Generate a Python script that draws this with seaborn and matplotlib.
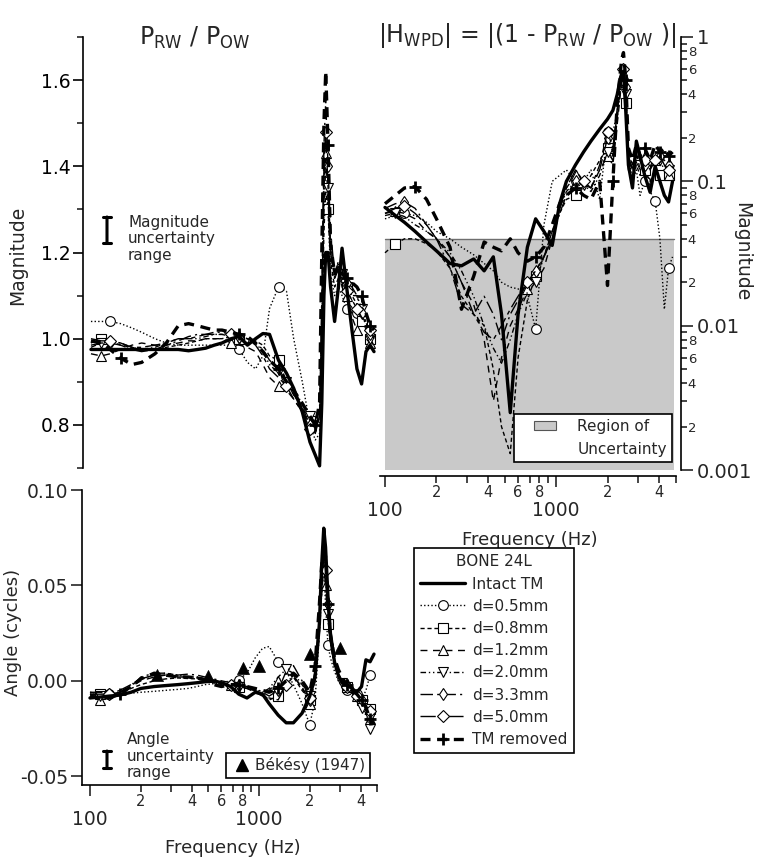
import numpy as np
import matplotlib
matplotlib.use("Agg")
import matplotlib.pyplot as plt
import seaborn as sns
from matplotlib.ticker import FixedLocator, FixedFormatter, NullLocator
from matplotlib.lines import Line2D
from matplotlib.patches import Patch, Rectangle, FancyArrowPatch
from matplotlib.legend_handler import HandlerPatch

# ---------------- data ----------------
FREQ = [100, 115, 130, 150, 175, 200, 240, 280, 330, 380, 430, 480, 540, 600, 680, 760,
        850, 950, 1050, 1150, 1300, 1450, 1600, 1800, 2000, 2150, 2280, 2350, 2420, 2480,
        2560, 2650, 2800, 2950, 3100, 3300, 3550, 3800, 4050, 4300, 4550, 4800]

SERIES = ["Intact TM", "d=0.5mm", "d=0.8mm", "d=1.2mm", "d=2.0mm", "d=3.3mm", "d=5.0mm", "TM removed"]

# P_RW / P_OW magnitude
ratio_intact = [.975, .975, .975, .975, .975, .975, .975, .975, .975, .972, .975, .978, .985, .99, 1.0, 1.005,
                .985, 1.0, 1.012, 1.01, .95, .92, .885, .83, .76, .73, .705, .85, 1.1, 1.2,
                1.2, 1.12, 1.04, 1.12, 1.21, 1.12, 1.02, .93, .895, .97, .985, .97]
ratio_d05 = [1.04, 1.04, 1.04, 1.035, 1.025, 1.015, 1.0, .99, .985, .985, .985, .985, .985, .985, .985, .975,
             .945, .93, .96, 1.07, 1.12, 1.11, 1.0, .9, .8, .765, .78, 1.0, 1.35, 1.45,
             1.3, 1.15, 1.1, 1.12, 1.1, 1.07, 1.06, 1.06, 1.06, 1.02, 1.0, 1.0]
ratio_d08 = [.99, 1.0, .995, .985, .98, .975, .975, .98, .985, .99, .995, 1.0, 1.0, 1.0, 1.005, 1.0,
             .99, .995, .985, .96, .95, .9, .87, .84, .81, .8, .82, 1.0, 1.25, 1.34,
             1.3, 1.18, 1.12, 1.14, 1.13, 1.12, 1.1, 1.08, 1.04, 1.02, 1.0, .99]
ratio_d12 = [.965, .96, .965, .975, .985, .99, .985, .985, .99, .995, .995, 1.0, 1.0, 1.0, .99, .985,
             .98, .97, .94, .91, .89, .88, .86, .83, .8, .79, .83, 1.05, 1.35, 1.43,
             1.32, 1.2, 1.15, 1.16, 1.12, 1.1, 1.05, 1.02, 1.01, 1.0, .99, .98]
ratio_d20 = [.98, .99, .995, .99, .98, .975, .98, .99, 1.0, 1.0, 1.0, 1.005, 1.01, 1.01, 1.005, 1.0,
             .995, .99, .97, .94, .92, .9, .88, .85, .82, .8, .84, 1.0, 1.3, 1.4,
             1.35, 1.22, 1.15, 1.17, 1.15, 1.12, 1.1, 1.1, 1.07, 1.04, 1.0, .98]
ratio_d33 = [.985, .99, .99, .985, .975, .97, .975, .985, .995, 1.005, 1.01, 1.01, 1.015, 1.015, 1.01, 1.005,
             1.0, .99, .975, .95, .93, .9, .87, .84, .8, .78, .82, 1.1, 1.45, 1.55,
             1.4, 1.25, 1.15, 1.18, 1.16, 1.13, 1.12, 1.1, 1.06, 1.03, 1.01, 1.0]
ratio_d50 = [1.0, .995, .995, .99, .98, .98, .985, .99, 1.0, 1.0, 1.005, 1.01, 1.01, 1.01, 1.01, 1.005,
             1.0, .985, .96, .93, .91, .89, .86, .83, .79, .785, .82, 1.05, 1.4, 1.48,
             1.35, 1.2, 1.14, 1.16, 1.13, 1.11, 1.09, 1.07, 1.05, 1.04, 1.02, 1.0]
ratio_removed = [.995, .99, .975, .955, .94, .945, .965, .99, 1.03, 1.035, 1.03, 1.025, 1.02, 1.02, 1.015, 1.01,
                 1.005, .99, .97, .95, .93, .9, .88, .85, .82, .8, .85, 1.2, 1.5, 1.62,
                 1.45, 1.22, 1.15, 1.17, 1.15, 1.14, 1.13, 1.12, 1.1, 1.06, 1.03, 1.02]

# |H_WPD| magnitude
hwpd_intact = [.066, .058, .052, .045, .038, .033, .027, .026, .029, .024, .03, .012, .0025, .012, .035, .055,
               .045, .036, .07, .1, .13, .16, .19, .23, .27, .31, .4, .48, .56, .58,
               .3, .13, .09, .19, .15, .11, .084, .127, .1, .08, .072, .1]
hwpd_d05 = [.055, .058, .06, .058, .052, .045, .04, .035, .031, .027, .024, .02, .0185, .018, .016, .0095,
            .05, .1, .11, .12, .1, .1, .12, .075, .22, .22, .3, .4, .55, .6,
            .35, .15, .1, .12, .08, .1, .085, .073, .04, .013, .025, .03]
hwpd_d08 = [.032, .037, .04, .04, .037, .033, .025, .016, .012, .01, .005, .002, .0013, .006, .015, .022,
            .03, .045, .06, .075, .08, .09, .11, .14, .17, .15, .3, .4, .45, .48,
            .35, .12, .1, .13, .11, .12, .1, .12, .11, .12, .11, .105]
hwpd_d12 = [.06, .062, .06, .055, .045, .04, .03, .02, .014, .008, .003, .006, .01, .013, .018, .02,
            .025, .04, .07, .09, .11, .1, .09, .12, .15, .13, .25, .35, .5, .55,
            .4, .14, .12, .14, .13, .15, .12, .14, .13, .12, .11, .12]
hwpd_d20 = [.058, .06, .057, .05, .045, .04, .032, .024, .016, .01, .007, .0055, .008, .012, .017, .02,
            .03, .04, .065, .085, .1, .095, .085, .11, .16, .14, .27, .38, .5, .56,
            .4, .15, .12, .15, .13, .14, .12, .15, .14, .12, .12, .11]
hwpd_d33 = [.065, .07, .072, .065, .05, .04, .025, .014, .012, .016, .012, .008, .012, .015, .02, .024,
            .03, .04, .06, .08, .1, .095, .09, .12, .2, .16, .3, .42, .55, .62,
            .45, .16, .13, .16, .14, .13, .15, .14, .15, .14, .13, .12]
hwpd_d50 = [.06, .065, .068, .06, .05, .04, .03, .02, .012, .009, .008, .01, .013, .016, .02, .024,
            .03, .045, .065, .09, .12, .1, .09, .13, .22, .17, .32, .45, .58, .6,
            .42, .15, .12, .16, .12, .14, .13, .14, .15, .13, .12, .11]
hwpd_removed = [.07, .08, .09, .092, .075, .055, .035, .013, .022, .038, .035, .033, .04, .032, .028, .03,
                .035, .05, .07, .08, .09, .08, .075, .1, .019, .1, .35, .5, .7, .78,
                .5, .17, .14, .18, .15, .17, .14, .18, .16, .17, .15, .16]

# angle (cycles)
ang_intact = [-.009, -.0085, -.008, -.0075, -.006, -.004, -.003, -.0025, -.002, -.0015, -.001, -.0005, 0.0, -.001, -.003, -.007,
              -.009, -.006, -.007, -.012, -.018, -.022, -.022, -.017, -.008, .002, .03, .06, .08, .07,
              .045, .025, .01, .003, -.001, -.002, -.004, -.006, -.003, .011, .01, .014]
ang_d05 = [-.007, -.007, -.007, -.0068, -.0065, -.006, -.0055, -.005, -.0045, -.004, -.003, -.002, -.0015, -.001, 0.0, .0005,
           .004, .012, .017, .018, .01, .005, -.002, -.012, -.023, -.01, .025, .045, .06, .04,
           .019, .012, .005, 0.0, -.003, -.005, -.006, -.007, -.01, -.005, .003, .004]
ang_d08 = [-.006, -.007, -.008, -.007, -.004, -.002, 0.0, .001, .0015, .0012, .001, 0.0, -.001, -.002, -.002, -.003,
           -.004, -.005, -.007, -.01, -.008, -.002, .002, -.005, -.01, 0.0, .03, .05, .065, .05,
           .03, .02, .01, .002, -.002, -.003, -.006, -.008, -.01, -.012, -.015, -.018]
ang_d12 = [-.008, -.01, -.009, -.007, -.003, 0.0, .002, .003, .0025, .002, .0015, 0.0, -.001, -.001, -.002, -.003,
           -.004, -.006, -.008, -.005, 0.0, .004, .002, -.003, -.012, 0.0, .025, .045, .06, .05,
           .032, .02, .008, .003, 0.0, -.002, -.005, -.008, -.012, -.016, -.02, -.022]
ang_d20 = [-.007, -.008, -.008, -.006, -.002, .001, .003, .004, .003, .002, .002, .001, 0.0, -.001, -.002, -.003,
           -.004, -.005, -.006, -.004, .002, .006, .004, -.002, -.008, .005, .03, .05, .062, .055,
           .035, .02, .008, .002, -.001, -.003, -.006, -.009, -.014, -.018, -.025, -.02]
ang_d33 = [-.006, -.006, -.007, -.006, -.003, .002, .004, .004, .003, .0035, .003, .002, .001, 0.0, -.001, -.002,
           -.003, -.004, -.006, -.008, -.005, .005, .008, 0.0, -.01, .004, .035, .055, .07, .06,
           .04, .022, .01, .004, 0.0, -.002, -.005, -.007, -.01, -.014, -.018, -.02]
ang_d50 = [-.007, -.007, -.007, -.005, -.002, .001, .003, .003, .002, .002, .002, .001, 0.0, -.001, -.002, -.003,
           -.004, -.005, -.007, -.009, -.01, -.002, .003, -.004, -.009, .003, .03, .05, .066, .058,
           .038, .022, .009, .003, 0.0, -.003, -.005, -.008, -.011, -.013, -.016, -.019]
ang_removed = [-.008, -.009, -.009, -.007, -.003, .001, .004, .003, .002, .002, .0015, .0005, -.002, -.003, -.002, -.002,
               -.003, -.004, -.005, -.006, -.004, 0.0, .004, 0.0, -.006, .008, .04, .06, .072, .065,
               .04, .024, .012, .006, .002, -.002, -.005, -.007, -.01, -.014, -.02, -.023]

BEKESY_FREQ = [250, 500, 800, 1000, 2000, 3000]
BEKESY_ANGLE = [0.003, 0.0026, 0.0068, 0.0079, 0.014, 0.0173]

REGION_FREQ = [100, 4900]
REGION_LOW, REGION_HIGH = 0.001, 0.04

RATIO = [ratio_intact, ratio_d05, ratio_d08, ratio_d12, ratio_d20, ratio_d33, ratio_d50, ratio_removed]
HWPD = [hwpd_intact, hwpd_d05, hwpd_d08, hwpd_d12, hwpd_d20, hwpd_d33, hwpd_d50, hwpd_removed]
ANGLE = [ang_intact, ang_d05, ang_d08, ang_d12, ang_d20, ang_d33, ang_d50, ang_removed]

# ---------------- styles ----------------
STYLES = [
    dict(lw=2.4, ls='-', marker=None, every=None, ms=0, z=6),
    dict(lw=1.0, ls=(0, (1, 1.6)), marker='o', every=[2, 15, 20, 24, 30, 35, 37, 40], ms=7, z=4),
    dict(lw=1.0, ls=(0, (3, 2)), marker='s', every=[1, 15, 20, 24, 30, 35, 38, 40], ms=6.5, z=4),
    dict(lw=1.0, ls=(0, (5, 4)), marker='^', every=[1, 14, 20, 24, 29, 35, 37, 40], ms=7, z=4),
    dict(lw=1.0, ls=(0, (4, 2, 1, 2, 1, 2)), marker='v', every=[1, 15, 21, 24, 30, 34, 38, 40], ms=7, z=4),
    dict(lw=1.0, ls=(0, (9, 3, 1.5, 3)), marker='d', every=[2, 15, 20, 24, 30, 35, 38, 40], ms=6, z=4),
    dict(lw=1.0, ls=(0, (11, 3, 3, 3)), marker='D', every=[2, 14, 21, 24, 29, 35, 37, 40], ms=6, z=4),
    dict(lw=2.4, ls=(0, (3, 2)), marker='+', every=[3, 15, 20, 25, 30, 35, 38, 40], ms=8, z=5),
]

sns.set_theme(style="white")
plt.rcParams['font.family'] = ['DejaVu Sans']
plt.rcParams['mathtext.default'] = 'regular'

W, H = 758, 864
fig = plt.figure(figsize=(W / 100, H / 100), dpi=100)


def box(l, t, r, b):
    return [l / W, 1 - b / H, (r - l) / W, (b - t) / H]


ax1 = fig.add_axes(box(83, 37, 377, 468))
ax2 = fig.add_axes(box(380, 37, 681, 476))
ax3 = fig.add_axes(box(82, 490, 377, 785))

for ax in (ax1, ax2, ax3):
    ax.set_facecolor('none')
    ax.set_xscale('log')
ax2.set_yscale('log')


def draw(ax, vals, st):
    sns.lineplot(x=FREQ, y=vals, ax=ax, color='black', linewidth=st['lw'],
                 estimator=None, sort=False, legend=False)
    ln = ax.lines[-1]
    ln.set_linestyle(st['ls'])
    ln.set_zorder(st['z'])
    if st['marker']:
        ln.set_marker(st['marker'])
        ln.set_markevery(st['every'])
        ln.set_markersize(st['ms'])
        ln.set_markerfacecolor('white')
        ln.set_markeredgecolor('black')
        ln.set_markeredgewidth(2.0 if st['marker'] == '+' else 0.8)


order = [1, 2, 3, 4, 5, 6, 7, 0]
for i in order:
    draw(ax1, RATIO[i], STYLES[i])
    draw(ax2, HWPD[i], STYLES[i])
    draw(ax3, ANGLE[i], STYLES[i])

# region of uncertainty
ax2.fill_between(REGION_FREQ, REGION_LOW, REGION_HIGH, color='#c9c9c9', lw=0, zorder=0)
ax2.plot(REGION_FREQ, [REGION_HIGH, REGION_HIGH], color='#6e6e6e', lw=1.0, zorder=1)

# Bekesy
sns.scatterplot(x=BEKESY_FREQ, y=BEKESY_ANGLE, ax=ax3, marker='^', s=75, color='black',
                edgecolor='black', linewidth=0.5, zorder=7, legend=False)

# ---------------- axes styling ----------------
TICK_MAJ = [100, 1000]
TICK_MIN = [200, 300, 400, 500, 600, 700, 800, 900, 2000, 3000, 4000, 5000]
MIN_LAB = ['2', '', '4', '', '6', '', '8', '', '2', '', '4', '']

for ax in (ax1, ax2, ax3):
    for s in ax.spines.values():
        s.set_color('black')
        s.set_linewidth(1.2)

ax1.set_xlim(89.7, 5000)
ax3.set_xlim(89.7, 5000)
ax2.set_xlim(93.5, 5380)
ax1.set_ylim(0.7, 1.7)
ax3.set_ylim(-0.0546, 0.100)
ax2.set_ylim(0.00091, 1.0)

# ax1: only left spine
for k in ('top', 'right', 'bottom'):
    ax1.spines[k].set_visible(False)
ax1.xaxis.set_major_locator(NullLocator())
ax1.xaxis.set_minor_locator(NullLocator())
ax1.yaxis.set_major_locator(FixedLocator([0.8, 1.0, 1.2, 1.4, 1.6]))
ax1.yaxis.set_major_formatter(FixedFormatter(['0.8', '1.0', '1.2', '1.4', '1.6']))
ax1.yaxis.set_minor_locator(FixedLocator([0.7, 0.9, 1.1, 1.3, 1.5, 1.7]))
ax1.tick_params(axis='y', which='major', direction='out', length=7, width=1.2, labelsize=13.5, pad=2,
                left=True, colors='black')
ax1.tick_params(axis='y', which='minor', direction='out', length=4, width=1.2, left=True)

# ax3
for k in ('top', 'right'):
    ax3.spines[k].set_visible(False)
ax3.yaxis.set_major_locator(FixedLocator([-0.05, 0.0, 0.05, 0.10]))
ax3.yaxis.set_major_formatter(FixedFormatter(['-0.05', '0.00', '0.05', '0.10']))
ax3.yaxis.set_minor_locator(NullLocator())
ax3.tick_params(axis='y', which='major', direction='out', length=8, width=1.2, labelsize=13.5, pad=2,
                left=True)


def freq_axis(ax):
    ax.xaxis.set_major_locator(FixedLocator(TICK_MAJ))
    ax.xaxis.set_major_formatter(FixedFormatter(['100', '1000']))
    ax.xaxis.set_minor_locator(FixedLocator(TICK_MIN))
    ax.xaxis.set_minor_formatter(FixedFormatter(MIN_LAB))
    ax.tick_params(axis='x', which='major', direction='out', length=8, width=1.2, labelsize=13.5, pad=10,
                   bottom=True)
    ax.tick_params(axis='x', which='minor', direction='out', length=5, width=1.2, labelsize=10.5, pad=1.5,
                   bottom=True)


freq_axis(ax3)
freq_axis(ax2)

# ax2: bottom + right spines
for k in ('top', 'left'):
    ax2.spines[k].set_visible(False)
ax2.spines['bottom'].set_bounds(93.5, 5000)
ax2.spines['right'].set_bounds(0.001, 1.0)
ax2.yaxis.tick_right()
ax2.yaxis.set_major_locator(FixedLocator([0.001, 0.01, 0.1, 1.0]))
ax2.yaxis.set_major_formatter(FixedFormatter(['0.001', '0.01', '0.1', '1']))
ymin = []
ylab = []
for dec in (0.001, 0.01, 0.1):
    for m in range(2, 10):
        ymin.append(m * dec)
        ylab.append(str(m) if m % 2 == 0 else '')
ax2.yaxis.set_minor_locator(FixedLocator(ymin))
ax2.yaxis.set_minor_formatter(FixedFormatter(ylab))
ax2.tick_params(axis='y', which='major', direction='out', length=8.5, width=1.2, labelsize=14, pad=3.2,
                right=True, left=False)
ax2.tick_params(axis='y', which='minor', direction='out', length=4.3, width=1.2, labelsize=9.5, pad=0.6,
                right=True, left=False)

# ---------------- texts ----------------
def ftxt(x, y, s, **kw):
    fig.text(x / W, 1 - y / H, s, **kw)


ftxt(195, 38, r'P$_{RW}$ / P$_{OW}$', fontsize=17, ha='center', va='center')
ftxt(527, 35, r'|H$_{WPD}$| = |(1 - P$_{RW}$ / P$_{OW}$ )|', fontsize=17, ha='center', va='center')
ftxt(18, 255, 'Magnitude', fontsize=13.5, rotation=90, ha='center', va='center')
ftxt(13, 632, 'Angle (cycles)', fontsize=13, rotation=90, ha='center', va='center')
ftxt(742, 252, 'Magnitude', fontsize=13.5, rotation=270, ha='center', va='center')
ftxt(530, 540, 'Frequency (Hz)', fontsize=13, ha='center', va='center')
ftxt(233, 848, 'Frequency (Hz)', fontsize=13, ha='center', va='center')

ftxt(128, 239, 'Magnitude\nuncertainty\nrange', fontsize=11, ha='left', va='center', linespacing=1.15)
ftxt(127, 756, 'Angle\nuncertainty\nrange', fontsize=11, ha='left', va='center', linespacing=1.15)

# uncertainty I-bars
for (x, y0, y1) in [(107, 217, 243), (107, 751, 768)]:
    fig.add_artist(FancyArrowPatch(
        (x / W, 1 - y0 / H), (x / W, 1 - y1 / H), transform=fig.transFigure,
        arrowstyle='|-|,widthA=0.3,widthB=0.3', mutation_scale=10, lw=2.2, color='black',
        shrinkA=0, shrinkB=0))

# ---------------- legends ----------------
handles = []
for st in STYLES:
    handles.append(Line2D([], [], color='black', lw=st['lw'], linestyle=st['ls'],
                          marker=st['marker'] if st['marker'] else None,
                          markersize=st['ms'], markerfacecolor='white', markeredgecolor='black',
                          markeredgewidth=2.0 if st['marker'] == '+' else 0.8))
leg = fig.legend(handles, SERIES, title='BONE 24L', loc='upper left',
                 bbox_to_anchor=(414 / W, 1 - 548 / H), bbox_transform=fig.transFigure,
                 borderaxespad=0, fontsize=11, title_fontsize=11, numpoints=1, handlelength=2.9,
                 handletextpad=0.5, labelspacing=0.47, borderpad=0.42, frameon=True,
                 fancybox=False, edgecolor='black', framealpha=1)
leg.get_frame().set_linewidth(1.2)


def small_rect(legend, orig_handle, xdescent, ydescent, width, height, fontsize):
    rw = 22 * 72 / 100.0
    return Rectangle((-xdescent + width - rw, -ydescent), rw, height)


lg2 = ax2.legend([Patch(facecolor='#c9c9c9', edgecolor='#555555', lw=0.8), Patch(alpha=0)],
                 ['Region of', 'Uncertainty'], loc='lower right',
                 bbox_to_anchor=(672 / W, 1 - 462 / H), bbox_transform=fig.transFigure,
                 borderaxespad=0, fontsize=11, handlelength=2.4, handleheight=0.6, handletextpad=1.4,
                 labelspacing=0.5, borderpad=0.35, frameon=True, fancybox=False,
                 edgecolor='black', framealpha=1,
                 handler_map={Patch: HandlerPatch(patch_func=small_rect)})
lg2.get_frame().set_linewidth(1.2)

lg3 = ax3.legend([Line2D([], [], color='black', marker='^', ls='none', markersize=9)],
                 ['Békésy (1947)'], loc='lower right',
                 bbox_to_anchor=(370 / W, 1 - 778 / H), bbox_transform=fig.transFigure,
                 borderaxespad=0, fontsize=11, handlelength=1.5, handletextpad=0.1, borderpad=0.3,
                 frameon=True, fancybox=False, edgecolor='black', framealpha=1)
lg3.get_frame().set_linewidth(1.2)

fig.savefig('out.png', dpi=100, facecolor='white')
